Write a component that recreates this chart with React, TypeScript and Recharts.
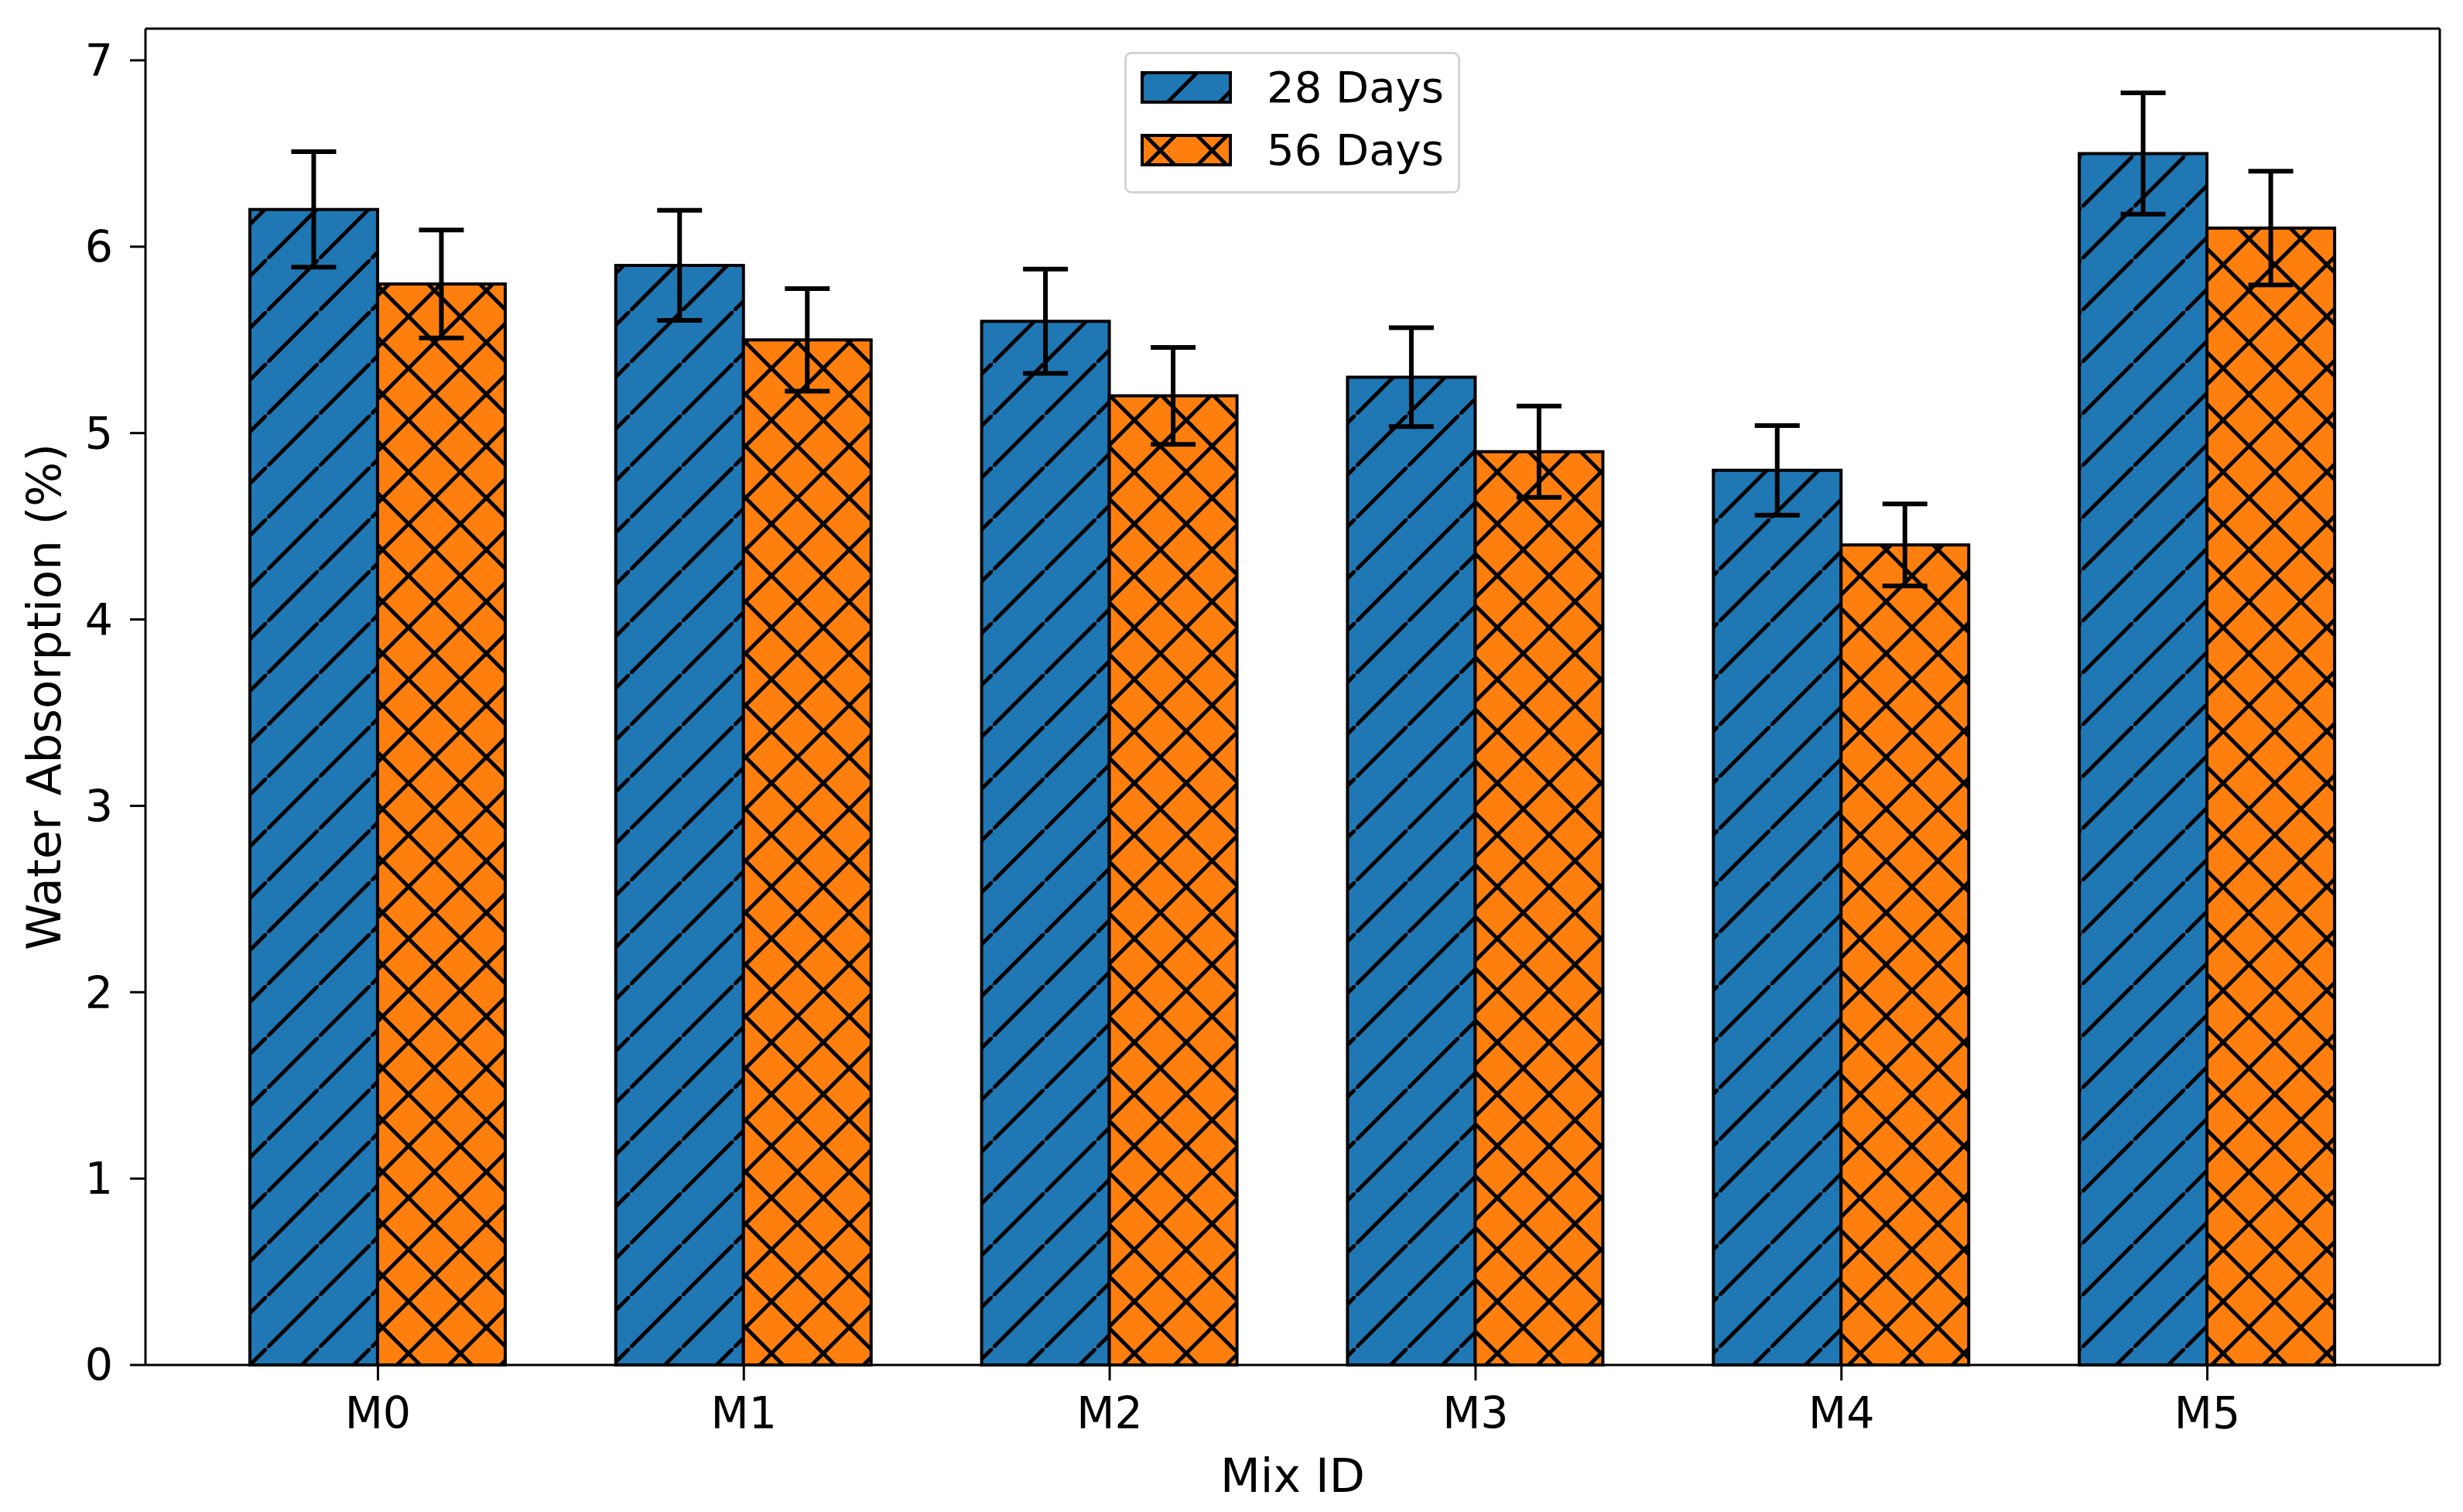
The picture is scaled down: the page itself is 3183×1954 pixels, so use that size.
import { BarChart, Bar, XAxis, YAxis, ErrorBar, Legend, Label } from "recharts";

const mixes = ["M0", "M1", "M2", "M3", "M4", "M5"];
const days28 = [6.2, 5.9, 5.6, 5.3, 4.8, 6.5];
const days56 = [5.8, 5.5, 5.2, 4.9, 4.4, 6.1];
const err28 = [0.31, 0.295, 0.28, 0.265, 0.24, 0.325];
const err56 = [0.29, 0.275, 0.26, 0.245, 0.22, 0.305];
const yTicks = [0, 1, 2, 3, 4, 5, 6, 7];

const data = mixes.map((mix, i) => ({
  mix,
  d28: days28[i],
  e28: err28[i],
  d56: days56[i],
  e56: err56[i],
}));

const BLUE = "#1f77b4";
const ORANGE = "#ff7f0e";
const FONT = "DejaVu Sans";
const P = 67; // hatch period

function DiagPattern({ id, x = 0, y = 0 }: { id: string; x?: number; y?: number }) {
  return (
    <pattern id={id} patternUnits="userSpaceOnUse" width={P} height={P} x={x} y={y}>
      <rect width={P} height={P} fill={BLUE} />
      <path d={`M-6,${P + 6} L${P + 6},-6`} stroke="#000" strokeWidth={5} />
    </pattern>
  );
}

function CrossPattern({ id, x = 0, y = 0 }: { id: string; x?: number; y?: number }) {
  return (
    <pattern id={id} patternUnits="userSpaceOnUse" width={P} height={P} x={x} y={y}>
      <rect width={P} height={P} fill={ORANGE} />
      <path d={`M-6,-6 L${P + 6},${P + 6} M-6,${P + 6} L${P + 6},-6`} stroke="#000" strokeWidth={5} />
    </pattern>
  );
}

function HatchLegend(props: any) {
  const payload = props.payload ?? [];
  return (
    <div
      style={{
        boxSizing: "border-box",
        width: 434,
        height: 183,
        border: "3px solid #d4d4d4",
        borderRadius: 9,
        background: "#fff",
        padding: "22px 0 0 18px",
        fontFamily: FONT,
      }}
    >
      {payload.map((p: any, i: number) => {
        const pid = `leg-${p.dataKey}`;
        return (
          <div
            key={p.dataKey}
            style={{ display: "flex", alignItems: "center", height: 42, marginBottom: i === 0 ? 39 : 0 }}
          >
            <svg width={118} height={42} style={{ display: "block" }}>
              <defs>
                {p.dataKey === "d28" ? <DiagPattern id={pid} x={8} /> : <CrossPattern id={pid} x={-8} y={-12} />}
              </defs>
              <rect x={2} y={2} width={114} height={38} fill={`url(#${pid})`} stroke="#000" strokeWidth={4} />
            </svg>
            <span style={{ marginLeft: 45, fontSize: 56, lineHeight: 1, color: "#000" }}>{p.value}</span>
          </div>
        );
      })}
    </div>
  );
}

const tickStyle = { fill: "#000", fontSize: 57, fontFamily: FONT };
const spine = { stroke: "#000", strokeWidth: 3 };

export default function App() {
  return (
    <div style={{ position: "absolute", left: 0, top: 0, background: "#fff" }}>
      <BarChart
        width={3183}
        height={1954}
        data={data}
        margin={{ top: 36, right: 29, bottom: 90, left: 38 }}
        barCategoryGap="15%"
        barGap={0}
        style={{ fontFamily: FONT }}
      >
        <defs>
          <DiagPattern id="hatch28" x={10} y={0} />
          <CrossPattern id="hatch56" x={59} y={7} />
        </defs>
        <XAxis
          dataKey="mix"
          height={100}
          padding={{ left: 64, right: 64 }}
          tick={tickStyle}
          tickSize={20}
          tickMargin={22}
          tickLine={spine}
          axisLine={spine}
        >
          <Label
            content={(props: any) => {
              const vb = props.viewBox ?? { x: 188, width: 2965 };
              return (
                <text x={vb.x + vb.width / 2} y={1928} textAnchor="middle" fontSize={60} fontFamily={FONT} fill="#000">
                  Mix ID
                </text>
              );
            }}
          />
        </XAxis>
        <XAxis
          xAxisId="top"
          dataKey="mix"
          orientation="top"
          height={1}
          padding={{ left: 64, right: 64 }}
          tick={false}
          tickLine={false}
          axisLine={spine}
        />
        <YAxis
          width={150}
          domain={[0, 7.17]}
          ticks={yTicks}
          tick={tickStyle}
          tickSize={20}
          tickMargin={22}
          tickLine={spine}
          axisLine={spine}
        >
          <Label
            content={(props: any) => {
              const vb = props.viewBox ?? { y: 37, height: 1727 };
              const cy = vb.y + vb.height / 2;
              return (
                <text x={78} y={cy} transform={`rotate(-90, 78, ${cy})`} textAnchor="middle" fontSize={61} fontFamily={FONT} fill="#000">
                  Water Absorption (%)
                </text>
              );
            }}
          />
        </YAxis>
        <YAxis
          yAxisId="right"
          orientation="right"
          width={1}
          domain={[0, 7.17]}
          ticks={yTicks}
          tick={false}
          tickLine={false}
          axisLine={spine}
        />
        <Legend
          layout="vertical"
          align="center"
          verticalAlign="middle"
          content={<HatchLegend />}
          wrapperStyle={{ left: 1453, top: 67, width: 434, height: 183 }}
        />
        <Bar dataKey="d28" name="28 Days" fill="url(#hatch28)" stroke="#000" strokeWidth={4} isAnimationActive={false}>
          <ErrorBar dataKey="e28" width={29} stroke="#000" strokeWidth={6} direction="y" />
        </Bar>
        <Bar dataKey="d56" name="56 Days" fill="url(#hatch56)" stroke="#000" strokeWidth={4} isAnimationActive={false}>
          <ErrorBar dataKey="e56" width={29} stroke="#000" strokeWidth={6} direction="y" />
        </Bar>
      </BarChart>
    </div>
  );
}
